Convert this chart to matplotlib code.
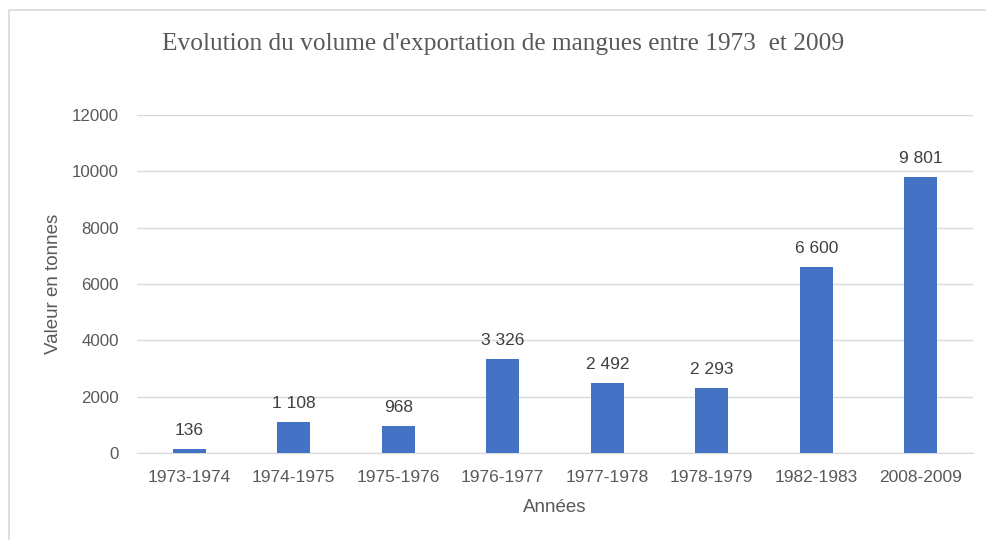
import matplotlib
matplotlib.use("Agg")
import matplotlib.pyplot as plt
from matplotlib.patches import Rectangle

categories = ["1973-1974", "1974-1975", "1975-1976", "1976-1977",
              "1977-1978", "1978-1979", "1982-1983", "2008-2009"]
values = [136, 1108, 968, 3326, 2492, 2293, 6600, 9801]
labels = ["136", "1 108", "968", "3 326", "2 492", "2 293", "6 600", "9 801"]
yticks = [0, 2000, 4000, 6000, 8000, 10000, 12000]

fig = plt.figure(figsize=(9.86, 5.4), dpi=100)
fig.patch.set_facecolor("white")

# light frame (top and left edges visible)
fig.add_artist(Rectangle((9/986, -0.05), 1.2, 1 - 10/540 + 0.05, transform=fig.transFigure,
                         fill=False, edgecolor="#d9d9d9", linewidth=1.2))

ax = fig.add_axes([137/986, 1 - 453/540, (973 - 137)/986, (453 - 115)/540])
x = list(range(len(categories)))
ax.bar(x, values, width=0.32, color="#4472C4", zorder=3)
ax.set_xlim(-0.5, len(categories) - 0.5)
ax.set_ylim(0, 12000)
ax.set_yticks(yticks)
ax.set_yticklabels([str(v) for v in yticks])
ax.set_xticks(x)
ax.set_xticklabels(categories)
ax.yaxis.grid(True, color="#d9d9d9", linewidth=1, zorder=0)
for s in ["top", "right", "left"]:
    ax.spines[s].set_visible(False)
ax.spines["bottom"].set_color("#d9d9d9")
ax.tick_params(axis="both", length=0, colors="#595959")
ax.tick_params(axis="x", pad=12, labelsize=12.5)
ax.tick_params(axis="y", pad=13, labelsize=12.2)
for lab in ax.get_xticklabels() + ax.get_yticklabels():
    lab.set_family("Liberation Sans")

for xi, v, t in zip(x, values, labels):
    ax.annotate(t, (xi, v), xytext=(0, 8), textcoords="offset points",
                ha="center", va="bottom", fontsize=12.5, color="#404040",
                family="Liberation Sans")

ax.set_ylabel("Valeur en tonnes", fontsize=13.5, color="#595959",
              family="Liberation Sans", va="center")
ax.yaxis.set_label_coords((53 - 137) / 836, 0.5)
ax.set_xlabel("Années", fontsize=13.5, color="#595959",
              family="Liberation Sans", va="center")
ax.xaxis.set_label_coords(0.5, (453 - 508) / 338)

fig.text(503/986, 1 - 44/540, "Evolution du volume d'exportation de mangues entre 1973  et 2009",
         ha="center", va="center", fontsize=18.3, color="#595959", family="Liberation Serif")

fig.savefig("out.png", dpi=100)
